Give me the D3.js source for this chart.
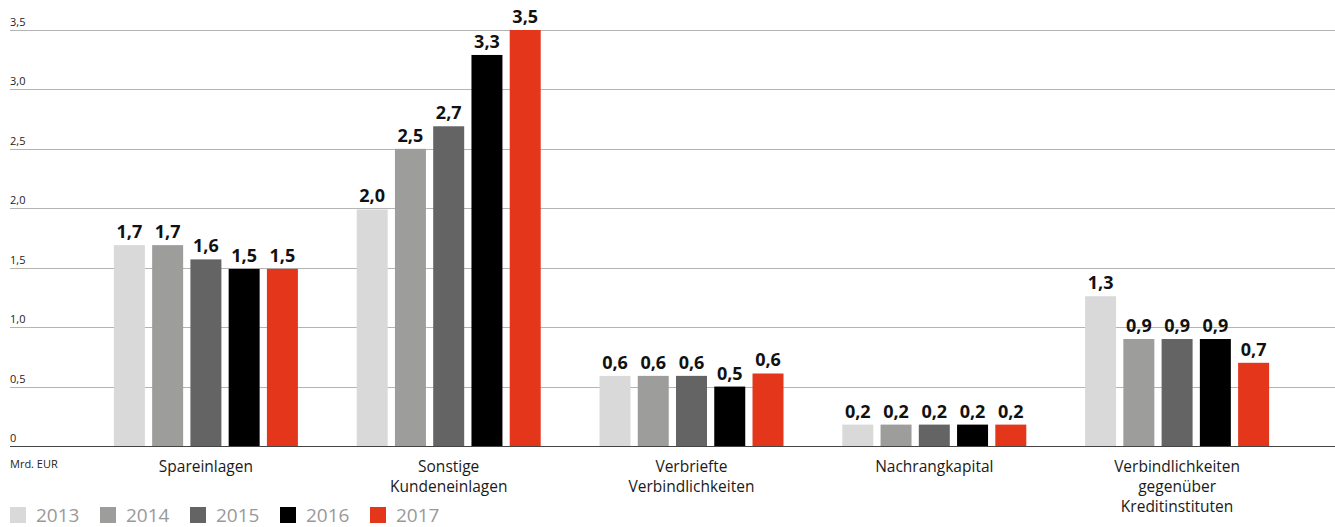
<!DOCTYPE html>
<html lang="de">
<head>
    <meta charset="UTF-8">
    <title>Refinanzierung</title>
    <script src="https://cdnjs.cloudflare.com/ajax/libs/d3/7.8.5/d3.min.js"></script>
    <style>
        body {
            margin: 0;
            background: #fff;
            font-family: "Open Sans", sans-serif;
        }

        .grid line {
            stroke: #b4b4b4;
            stroke-width: 1;
        }

        .tick-label {
            font-size: 11px;
            fill: #222;
        }

        .value {
            font-size: 18px;
            font-weight: bold;
            fill: #111;
        }

        .cat {
            font-size: 15.5px;
            fill: #1a1a1a;
        }

        .legend text {
            font-size: 19px;
            fill: #999;
        }
    </style>
</head>
<body>
<div id="chart"></div>
<script>
    const categories = [
        ['Spareinlagen'],
        ['Sonstige', 'Kundeneinlagen'],
        ['Verbriefte', 'Verbindlichkeiten'],
        ['Nachrangkapital'],
        ['Verbindlichkeiten', 'gegenüber', 'Kreditinstituten']
    ];
    const years = ['2013', '2014', '2015', '2016', '2017'];
    const colors = ['#d9d9d9', '#9d9d9c', '#646464', '#000000', '#e3361b'];

    // one array per year, same order as categories
    const v2013 = [1.69, 1.99, 0.59, 0.18, 1.26];
    const v2014 = [1.69, 2.50, 0.59, 0.18, 0.90];
    const v2015 = [1.57, 2.69, 0.59, 0.18, 0.90];
    const v2016 = [1.49, 3.29, 0.50, 0.18, 0.90];
    const v2017 = [1.49, 3.50, 0.61, 0.18, 0.70];
    const series = [v2013, v2014, v2015, v2016, v2017];

    const yTicks = [0, 0.5, 1.0, 1.5, 2.0, 2.5, 3.0, 3.5];
    const unit = 'Mrd. EUR';

    const width = 1335;
    const height = 527;

    const svg = d3.select('#chart').append('svg')
        .attr('width', width)
        .attr('height', height);

    const y = d3.scaleLinear().domain([0, 3.5]).range([446, 30]);

    const x0 = d3.scaleBand()
        .domain(d3.range(categories.length))
        .range([84.5, 1298.5])
        .padding(0);

    const x1 = d3.scaleBand()
        .domain(d3.range(years.length))
        .range([0, 184])
        .paddingInner(0.19)
        .paddingOuter(0);

    const fmt = v => d3.format('.1f')(v).replace('.', ',');

    // gridlines
    const grid = svg.append('g').attr('class', 'grid');
    grid.selectAll('line')
        .data(yTicks.filter(t => t > 0))
        .enter().append('line')
        .attr('x1', 10).attr('x2', width)
        .attr('y1', d => Math.round(y(d)) + 0.5)
        .attr('y2', d => Math.round(y(d)) + 0.5);

    svg.selectAll('.tick-label')
        .data(yTicks)
        .enter().append('text')
        .attr('class', 'tick-label')
        .attr('x', 10)
        .attr('y', d => y(d) - 4)
        .text(d => d === 0 ? '0' : fmt(d));

    // bars
    const groups = svg.selectAll('.group')
        .data(categories)
        .enter().append('g')
        .attr('class', 'group')
        .attr('transform', (d, i) => `translate(${x0(i) + (x0.bandwidth() - 184) / 2},0)`);

    groups.each(function (_, ci) {
        const g = d3.select(this);
        const vals = series.map(s => s[ci]);
        g.selectAll('rect')
            .data(vals)
            .enter().append('rect')
            .attr('x', (d, i) => x1(i))
            .attr('width', x1.bandwidth())
            .attr('y', d => y(d))
            .attr('height', d => y(0) - y(d))
            .attr('fill', (d, i) => colors[i]);
        g.selectAll('.value')
            .data(vals)
            .enter().append('text')
            .attr('class', 'value')
            .attr('x', (d, i) => x1(i) + x1.bandwidth() / 2)
            .attr('y', d => y(d) - 7)
            .attr('text-anchor', 'middle')
            .text(fmt);
    });

    // baseline
    svg.append('line')
        .attr('x1', 10).attr('x2', width)
        .attr('y1', y(0) + 0.5).attr('y2', y(0) + 0.5)
        .attr('stroke', '#444')
        .attr('stroke-width', 1.2);

    svg.append('text')
        .attr('class', 'tick-label')
        .attr('x', 10)
        .attr('y', 468)
        .text(unit);

    // category labels
    categories.forEach((lines, i) => {
        const t = svg.append('text')
            .attr('class', 'cat')
            .attr('text-anchor', 'middle')
            .attr('x', x0(i) + x0.bandwidth() / 2)
            .attr('y', 472);
        lines.forEach((l, k) => {
            t.append('tspan')
                .attr('x', x0(i) + x0.bandwidth() / 2)
                .attr('dy', k === 0 ? 0 : 20)
                .text(l);
        });
    });

    // legend
    const legend = svg.append('g').attr('class', 'legend');
    years.forEach((yr, i) => {
        const lg = legend.append('g').attr('transform', `translate(${10 + i * 90},507)`);
        lg.append('rect').attr('width', 16).attr('height', 16).attr('fill', colors[i]);
        lg.append('text').attr('x', 26).attr('y', 15).text(yr);
    });
</script>
</body>
</html>
